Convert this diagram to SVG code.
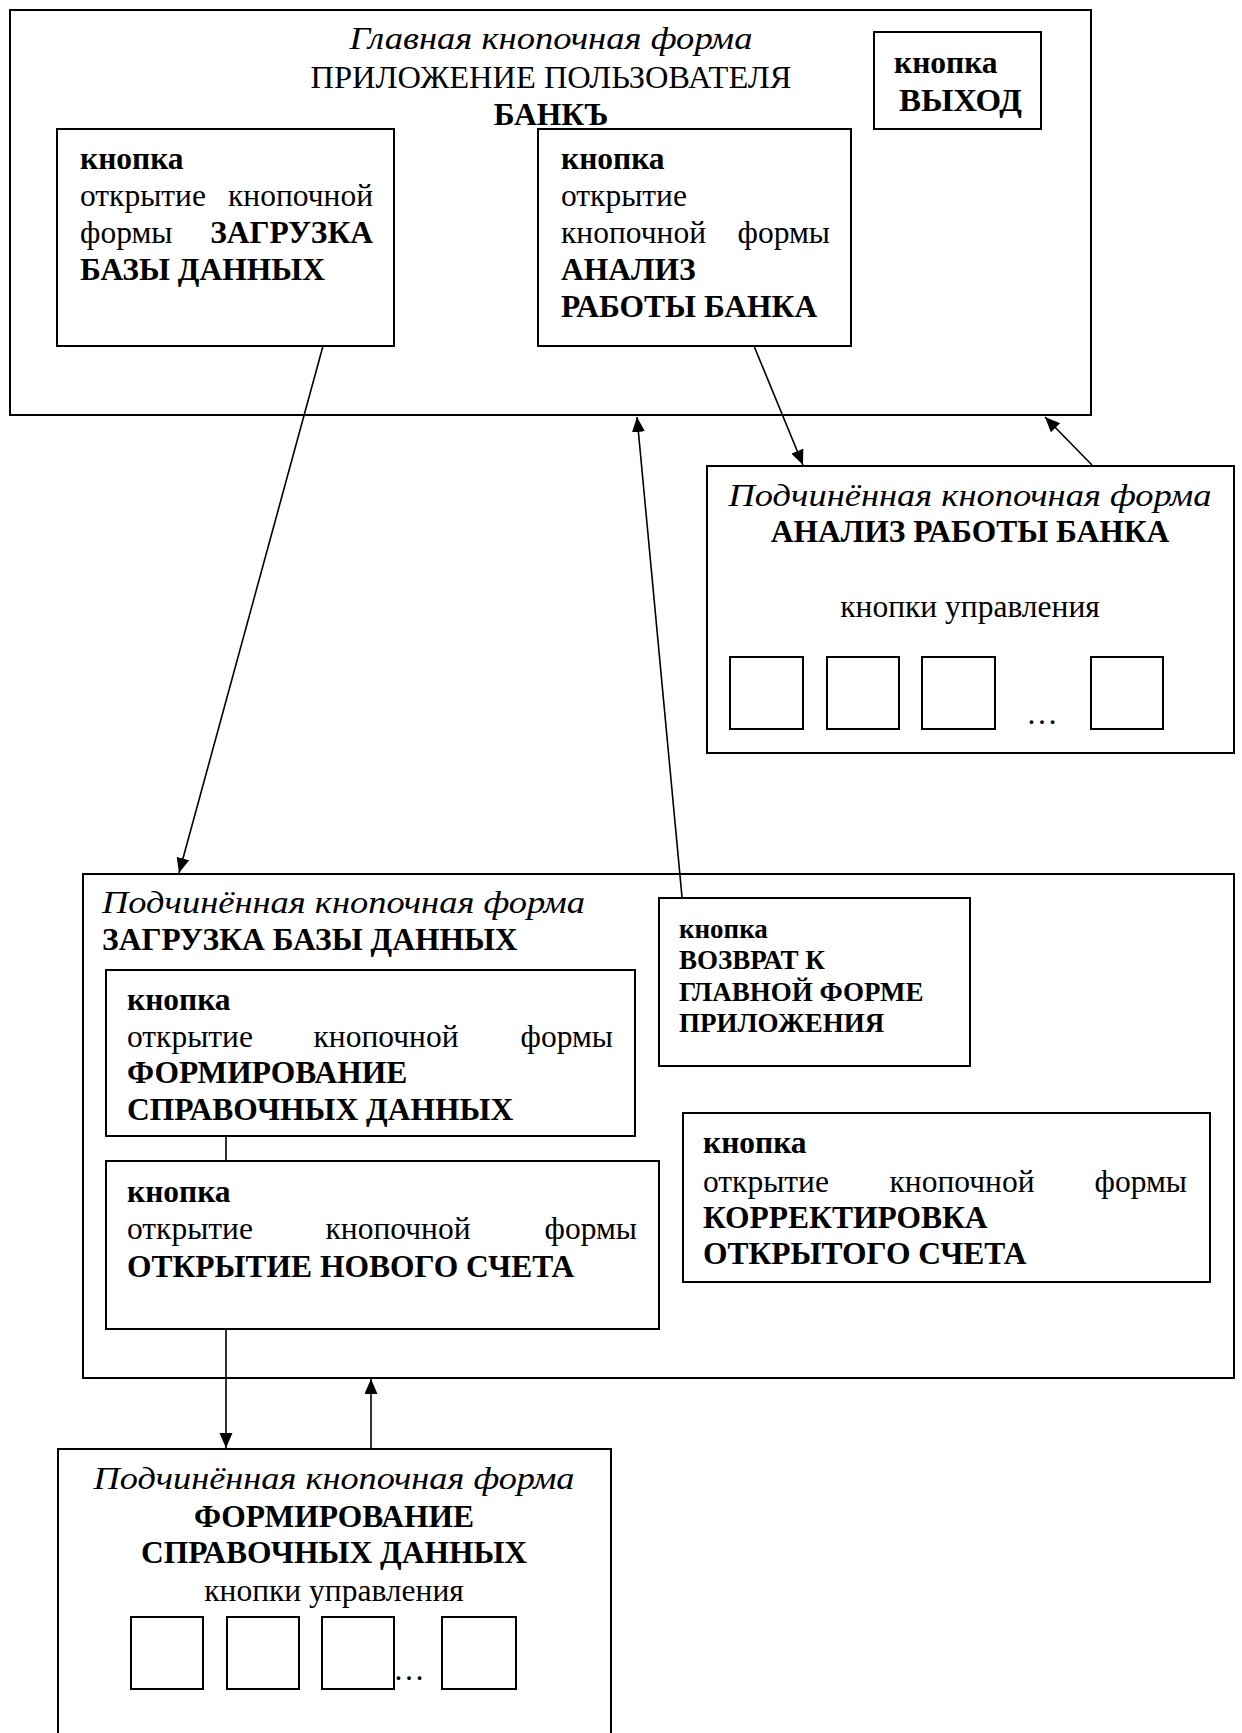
<svg xmlns="http://www.w3.org/2000/svg" width="1242" height="1733" viewBox="0 0 1242 1733">
<style>
.box{fill:none;stroke:#000;stroke-width:2}
.t{font-family:"Liberation Serif","Times New Roman",serif;font-size:31.5px;fill:#000}
.b{font-weight:bold}
.i{font-style:italic;font-size:32.5px}
.s{font-size:27px}
.m{text-anchor:middle}
.e{text-anchor:end}
.c{stroke:#000;stroke-width:1.6;fill:none}
</style>
<defs>
<marker id="ah" markerUnits="userSpaceOnUse" markerWidth="16" markerHeight="14" refX="15" refY="6.5" orient="auto">
<path d="M0,0 L15,6.5 L0,13 z" fill="#000"/>
</marker>
</defs>
<rect width="1242" height="1733" fill="#fff"/>

<g id="main-form">
<rect class="box" x="10" y="10" width="1081" height="405"/>
<text class="t i m" x="551" y="49" textLength="403" lengthAdjust="spacingAndGlyphs">Главная кнопочная форма</text>
<text class="t m" x="551" y="88" textLength="481" lengthAdjust="spacingAndGlyphs">ПРИЛОЖЕНИЕ ПОЛЬЗОВАТЕЛЯ</text>
<text class="t b m" x="551" y="125">БАНКЪ</text>
</g>

<g id="btn-exit">
<rect class="box" x="874" y="32" width="167" height="97"/>
<text class="t b" x="894" y="73">кнопка</text>
<text class="t b" x="899" y="111" textLength="123" lengthAdjust="spacingAndGlyphs">ВЫХОД</text>
</g>

<g id="btn-load">
<rect class="box" x="57" y="129" width="337" height="217"/>
<text class="t b" x="80" y="169">кнопка</text>
<text class="t" x="80" y="206">открытие</text>
<text class="t e" x="373" y="206">кнопочной</text>
<text class="t" x="80" y="243">формы</text>
<text class="t b e" x="373" y="243">ЗАГРУЗКА</text>
<text class="t b" x="80" y="280">БАЗЫ ДАННЫХ</text>
</g>

<g id="btn-analysis">
<rect class="box" x="538" y="129" width="313" height="217"/>
<text class="t b" x="561" y="169">кнопка</text>
<text class="t" x="561" y="206">открытие</text>
<text class="t" x="561" y="243">кнопочной</text>
<text class="t e" x="830" y="243">формы</text>
<text class="t b" x="561" y="280">АНАЛИЗ</text>
<text class="t b" x="561" y="317">РАБОТЫ БАНКА</text>
</g>

<g id="form-analysis">
<rect class="box" x="707" y="466" width="527" height="287"/>
<text class="t i m" x="970" y="506" textLength="483" lengthAdjust="spacingAndGlyphs">Подчинённая кнопочная форма</text>
<text class="t b m" x="970" y="542">АНАЛИЗ РАБОТЫ БАНКА</text>
<text class="t m" x="970" y="617">кнопки управления</text>
<rect class="box" x="730" y="657" width="73" height="72"/>
<rect class="box" x="827" y="657" width="72" height="72"/>
<rect class="box" x="922" y="657" width="73" height="72"/>
<rect class="box" x="1091" y="657" width="72" height="72"/>
<text class="t m" x="1042" y="724">…</text>
</g>

<g id="form-load">
<rect class="box" x="83" y="874" width="1151" height="504"/>
<text class="t i" x="102" y="913" textLength="483" lengthAdjust="spacingAndGlyphs">Подчинённая кнопочная форма</text>
<text class="t b" x="102" y="950">ЗАГРУЗКА БАЗЫ ДАННЫХ</text>
</g>

<g id="btn-reference">
<rect class="box" x="106" y="970" width="529" height="166"/>
<text class="t b" x="127" y="1010">кнопка</text>
<text class="t" x="127" y="1047">открытие</text>
<text class="t m" x="386" y="1047">кнопочной</text>
<text class="t e" x="613" y="1047">формы</text>
<text class="t b" x="127" y="1083">ФОРМИРОВАНИЕ</text>
<text class="t b" x="127" y="1120">СПРАВОЧНЫХ ДАННЫХ</text>
</g>

<g id="btn-new-account">
<rect class="box" x="106" y="1161" width="553" height="168"/>
<text class="t b" x="127" y="1202">кнопка</text>
<text class="t" x="127" y="1239">открытие</text>
<text class="t m" x="398" y="1239">кнопочной</text>
<text class="t e" x="637" y="1239">формы</text>
<text class="t b" x="127" y="1277">ОТКРЫТИЕ НОВОГО СЧЕТА</text>
</g>

<g id="btn-return">
<rect class="box" x="659" y="898" width="311" height="168"/>
<text class="t b s" x="679" y="938">кнопка</text>
<text class="t b s" x="679" y="969">ВОЗВРАТ К</text>
<text class="t b s" x="679" y="1001">ГЛАВНОЙ ФОРМЕ</text>
<text class="t b s" x="679" y="1032">ПРИЛОЖЕНИЯ</text>
</g>

<g id="btn-correct">
<rect class="box" x="683" y="1113" width="527" height="169"/>
<text class="t b" x="703" y="1153">кнопка</text>
<text class="t" x="703" y="1192">открытие</text>
<text class="t m" x="962" y="1192">кнопочной</text>
<text class="t e" x="1187" y="1192">формы</text>
<text class="t b" x="703" y="1228">КОРРЕКТИРОВКА</text>
<text class="t b" x="703" y="1264">ОТКРЫТОГО СЧЕТА</text>
</g>

<g id="form-reference">
<rect class="box" x="58" y="1449" width="553" height="300"/>
<text class="t i m" x="334" y="1489" textLength="481" lengthAdjust="spacingAndGlyphs">Подчинённая кнопочная форма</text>
<text class="t b m" x="334" y="1527">ФОРМИРОВАНИЕ</text>
<text class="t b m" x="334" y="1563">СПРАВОЧНЫХ ДАННЫХ</text>
<text class="t m" x="334" y="1601">кнопки управления</text>
<rect class="box" x="131" y="1617" width="72" height="72"/>
<rect class="box" x="227" y="1617" width="72" height="72"/>
<rect class="box" x="322" y="1617" width="72" height="72"/>
<rect class="box" x="442" y="1617" width="74" height="72"/>
<text class="t m" x="409" y="1680">…</text>
</g>

<g id="connectors">
<line class="c" x1="323" y1="346" x2="179" y2="873" marker-end="url(#ah)"/>
<line class="c" x1="754" y1="346" x2="803" y2="465" marker-end="url(#ah)"/>
<line class="c" x1="1092" y1="465" x2="1045" y2="417" marker-end="url(#ah)"/>
<line class="c" x1="682" y1="897" x2="637" y2="417" marker-end="url(#ah)"/>
<line class="c" x1="226" y1="1136" x2="226" y2="1161"/>
<line class="c" x1="226" y1="1329" x2="226" y2="1448" marker-end="url(#ah)"/>
<line class="c" x1="371" y1="1448" x2="371" y2="1379" marker-end="url(#ah)"/>
</g>
</svg>
